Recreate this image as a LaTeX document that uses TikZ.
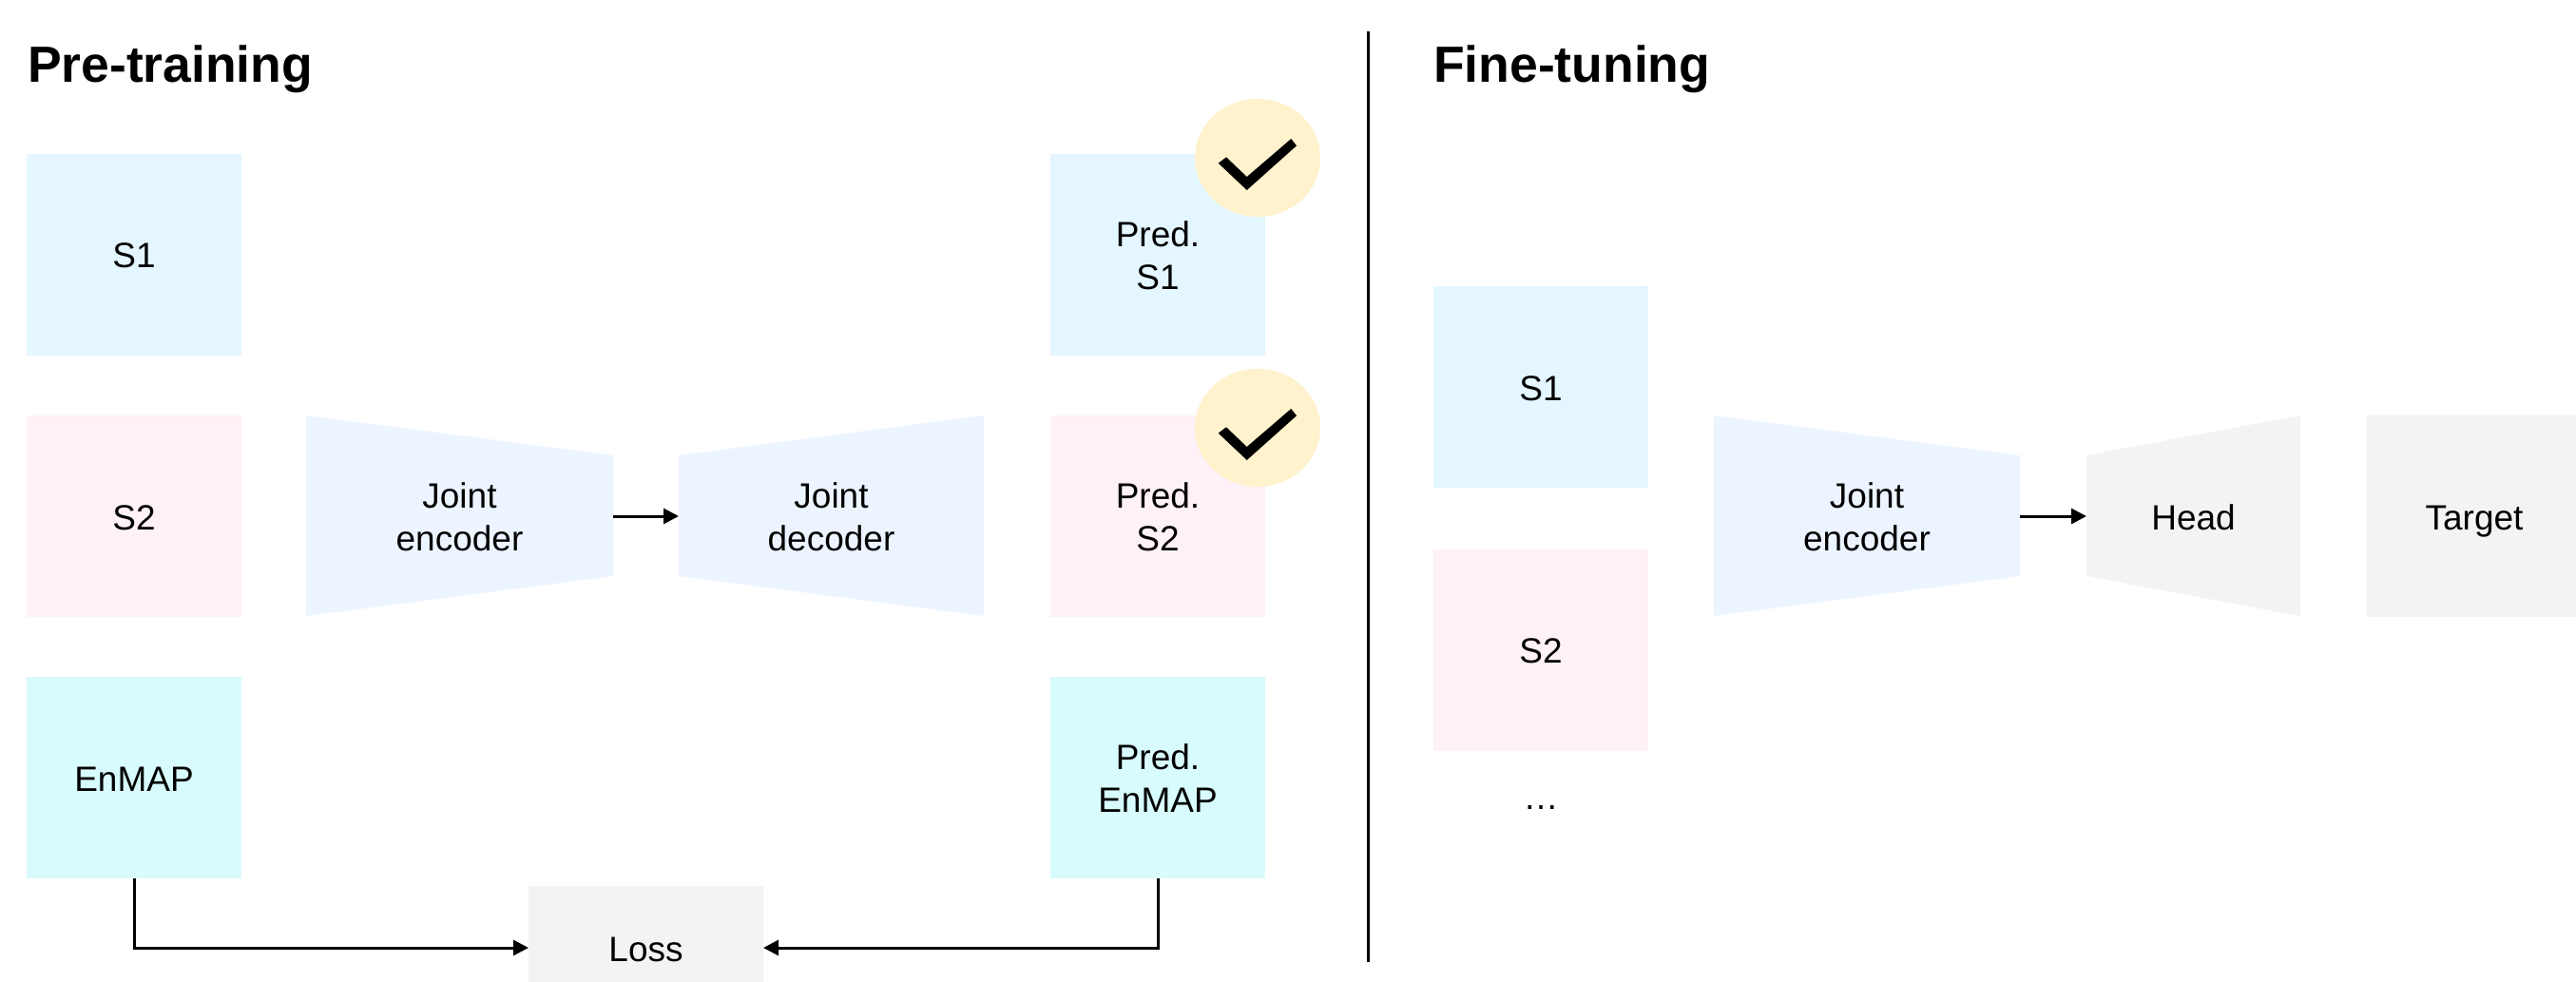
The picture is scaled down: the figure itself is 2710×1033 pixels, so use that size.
\documentclass[tikz,border=0pt]{standalone}
\usepackage{fontspec}
\setmainfont{Liberation Sans}
\usetikzlibrary{arrows.meta}
\definecolor{sOne}{HTML}{E4F6FF}
\definecolor{sTwo}{HTML}{FEF1F7}
\definecolor{enMap}{HTML}{D8FBFD}
\definecolor{codec}{HTML}{ECF5FF}
\definecolor{grayBox}{HTML}{F3F3F3}
\definecolor{checkBg}{HTML}{FFF2CC}
\tikzset{
  x=1pt, y=-1pt,
  txt/.style={font=\fontsize{37}{45}\selectfont, align=center, text=black, inner sep=0pt, outer sep=0pt},
  single/.style={text height=28pt, text depth=0pt},
  double/.style={text height=73pt, text depth=0pt},
  databox/.style={txt, minimum width=226pt, minimum height=212pt},
  title/.style={font=\fontsize{53.5}{60}\bfseries\selectfont, anchor=base west, inner sep=0pt, outer sep=0pt},
  conn/.style={line width=3pt, -{Triangle[length=16pt,width=16pt]}},
  badge/.style={fill=checkBg, draw=none},
  tick/.style={fill=black, draw=none},
}
\newcommand{\checkbadge}[1]{%
  \begin{scope}[yshift=-#1pt]
    \fill[badge] (1323,166) ellipse [x radius=66, y radius=62];
    \fill[tick] (1281.7,171.7) -- (1290,165.3) -- (1311.7,186) -- (1358.3,146) -- (1364,153.3) -- (1311.7,200) -- cycle;
  \end{scope}}
\begin{document}
\begin{tikzpicture}
\useasboundingbox (0,0) rectangle (2710,1033);
\clip (0,0) rectangle (2710,1033);

\node[title] (pre) at (29,87) {Pre-training};
\node[title] (fine) at (1508,87) {Fine-tuning};

% Pre-training, inputs
\node[databox, single, fill=sOne] (s1) at (141,267.5) {S1};
\node[databox, single, fill=sTwo] (s2) at (141,543) {S2};
\node[databox, single, fill=enMap] (en) at (141,818) {EnMAP};

% trapezoids
\fill[codec] (322,437) -- (645,479) -- (645,606) -- (322,648) -- cycle;
\fill[codec] (714,479) -- (1035,437) -- (1035,648) -- (714,606) -- cycle;
\node[txt, double, minimum width=323pt, minimum height=127pt] (enc) at (483.5,543) {Joint\\encoder};
\node[txt, double, minimum width=321pt, minimum height=127pt] (dec) at (874.5,543) {Joint\\decoder};

% Predictions
\node[databox, double, fill=sOne] (p1) at (1218,267.5) {Pred.\\S1};
\node[databox, double, fill=sTwo] (p2) at (1218,543) {Pred.\\S2};
\node[databox, double, fill=enMap] (p3) at (1218,818) {Pred.\\EnMAP};

\checkbadge{0}
\checkbadge{284}

% Loss
\node[txt, single, fill=grayBox, minimum width=247pt, minimum height=130pt] (loss) at (679.5,997) {Loss};

\draw[conn] (enc.east) -- (dec.west);
\draw[conn] (en.south) |- (loss.west);
\draw[conn] (p3.south) |- (loss.east);

% Divider
\coordinate (divtop) at (1439,33);
\coordinate (divbot) at (1439,1012);
\draw[line width=3pt] (divtop) -- (divbot);

% Fine-tuning
\node[databox, single, fill=sOne] (fs1) at (1621,407) {S1};
\node[databox, single, fill=sTwo] (fs2) at (1621,683.5) {S2};
\node[txt] (dots) at (1621,850) {…};
\fill[codec] (1803,437) -- (2125,479) -- (2125,606) -- (1803,648) -- cycle;
\node[txt, double, minimum width=322pt, minimum height=127pt] (fenc) at (1964,543) {Joint\\encoder};
\fill[grayBox] (2195,479) -- (2420,437) -- (2420,648) -- (2195,606) -- cycle;
\node[txt, single, minimum width=225pt, minimum height=127pt] (head) at (2307.5,543) {Head};
\node[txt, single, fill=grayBox, minimum width=226pt, minimum height=212pt] (target) at (2603,543) {Target};
\draw[conn] (fenc.east) -- (head.west);
\end{tikzpicture}
\end{document}
